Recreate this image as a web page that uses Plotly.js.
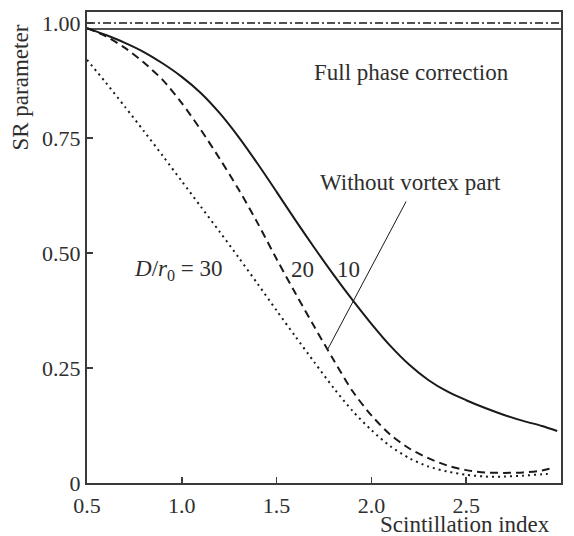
<!DOCTYPE html>
<html>
<head>
<meta charset="utf-8">
<script src="https://cdn.plot.ly/plotly-3.0.1.min.js"></script>
<style>html,body{margin:0;padding:0;background:#fff;}#chart{width:574px;height:536px;}</style>
</head>
<body>
<div id="chart"></div>
<script>
// D/r0 = 10 (solid)
const x10 = [0.5, 0.6, 0.7, 0.8, 0.9, 1.0, 1.1, 1.2, 1.3, 1.4, 1.5, 1.6, 1.7, 1.8, 1.9, 2.0, 2.1, 2.2, 2.3, 2.4, 2.5, 2.6, 2.7, 2.8, 2.9, 2.98];
const y10 = [0.989, 0.974, 0.957, 0.937, 0.912, 0.883, 0.848, 0.804, 0.752, 0.694, 0.633, 0.571, 0.511, 0.453, 0.398, 0.346, 0.298, 0.257, 0.224, 0.199, 0.180, 0.163, 0.148, 0.135, 0.124, 0.113];
// D/r0 = 20 (dashed)
const x20 = [0.5, 0.6, 0.7, 0.8, 0.9, 1.0, 1.1, 1.2, 1.3, 1.4, 1.5, 1.6, 1.7, 1.8, 1.9, 2.0, 2.1, 2.2, 2.3, 2.4, 2.5, 2.6, 2.7, 2.8, 2.9, 2.95];
const y20 = [0.989, 0.971, 0.946, 0.914, 0.876, 0.826, 0.768, 0.705, 0.638, 0.565, 0.487, 0.412, 0.339, 0.268, 0.200, 0.147, 0.105, 0.075, 0.054, 0.038, 0.028, 0.023, 0.022, 0.023, 0.027, 0.032];
// D/r0 = 30 (dotted)
const x30 = [0.5, 0.6, 0.7, 0.8, 0.9, 1.0, 1.1, 1.2, 1.3, 1.4, 1.5, 1.6, 1.7, 1.8, 1.9, 2.0, 2.1, 2.2, 2.3, 2.4, 2.5, 2.6, 2.7, 2.8, 2.9, 2.95];
const y30 = [0.920, 0.870, 0.818, 0.765, 0.711, 0.656, 0.601, 0.546, 0.490, 0.433, 0.375, 0.318, 0.262, 0.207, 0.157, 0.115, 0.080, 0.054, 0.036, 0.025, 0.018, 0.014, 0.014, 0.016, 0.019, 0.020];
// Reference levels
const levelX = [0.5, 3.0];
const fullCorrection = [1.0, 1.0];
const fullCorrectionSolid = [0.987, 0.987];
// Axis ticks
const xTicks = [0.5, 1.0, 1.5, 2.0, 2.5, 3.0];
const xTickText = ['0.5', '1.0', '1.5', '2.0', '2.5', '3.0'];
const yTicks = [0, 0.25, 0.5, 0.75, 1.0];
const yTickText = ['0', '0.25', '0.50', '0.75', '1.00'];

const ink = '#1a1a1a';
const axisInk = '#3a3a3a';
const textInk = '#2e2e2e';
const font = 'Liberation Serif, Times New Roman, serif';

const traces = [
  {x: levelX, y: fullCorrection, mode: 'lines', line: {color: ink, width: 1.5, dash: '8px,3px,2px,3px'}, hoverinfo: 'skip'},
  {x: levelX, y: fullCorrectionSolid, mode: 'lines', line: {color: ink, width: 1.5}, hoverinfo: 'skip'},
  {x: x10, y: y10, mode: 'lines', line: {color: ink, width: 2, shape: 'spline', smoothing: 0.8}},
  {x: x20, y: y20, mode: 'lines', line: {color: ink, width: 2, shape: 'spline', smoothing: 0.8, dash: '8px,5px'}},
  {x: x30, y: y30, mode: 'lines', line: {color: ink, width: 2, shape: 'spline', smoothing: 0.8, dash: '2px,4px'}}
];

const layout = {
  width: 574, height: 536,
  margin: {l: 87, r: 13, t: 12, b: 53},
  paper_bgcolor: '#fff', plot_bgcolor: '#fff',
  showlegend: false,
  font: {family: font, size: 22, color: textInk},
  xaxis: {
    range: [0.5, 3.0], tickvals: xTicks, ticktext: xTickText,
    ticks: 'inside', ticklen: 6, tickwidth: 1.5, tickcolor: axisInk,
    showline: true, linecolor: axisInk, linewidth: 2, mirror: true,
    showgrid: false, zeroline: false, ticklabelstandoff: 2,
    tickfont: {family: font, size: 22, color: textInk}
  },
  yaxis: {
    range: [0, 1.024], tickvals: yTicks, ticktext: yTickText,
    ticks: 'inside', ticklen: 6, tickwidth: 1.5, tickcolor: axisInk,
    showline: true, linecolor: axisInk, linewidth: 2, mirror: true,
    showgrid: false, zeroline: false,
    tickfont: {family: font, size: 22, color: textInk}
  },
  shapes: [
    {type: 'line', xref: 'x', yref: 'y', x0: 2.183, y0: 0.612, x1: 1.77, y1: 0.291, line: {color: ink, width: 1}}
  ],
  annotations: [
    {xref: 'paper', yref: 'paper', x: 0.981, y: -0.089, xanchor: 'right', yanchor: 'middle', showarrow: false,
     text: 'Scintillation index', font: {family: font, size: 23, color: textInk}},
    {xref: 'paper', yref: 'paper', x: -0.141, y: 0.84, xanchor: 'center', yanchor: 'middle', showarrow: false,
     textangle: -90, text: 'SR parameter', font: {family: font, size: 23, color: textInk}},
    {xref: 'x', yref: 'y', x: 2.211, y: 0.893, showarrow: false, text: 'Full phase correction', font: {family: font, size: 23, color: textInk}},
    {xref: 'x', yref: 'y', x: 2.204, y: 0.654, showarrow: false, text: 'Without vortex part', font: {family: font, size: 23, color: textInk}},
    {xref: 'x', yref: 'y', x: 0.98, y: 0.463, showarrow: false, text: '<i>D</i>/<i>r</i><sub>0</sub> = 30', font: {family: font, size: 23, color: textInk}},
    {xref: 'x', yref: 'y', x: 1.634, y: 0.465, showarrow: false, text: '20', font: {family: font, size: 23, color: textInk}},
    {xref: 'x', yref: 'y', x: 1.877, y: 0.465, showarrow: false, text: '10', font: {family: font, size: 23, color: textInk}}
  ]
};

Plotly.newPlot('chart', traces, layout, {staticPlot: true, displayModeBar: false});
</script>
</body>
</html>
